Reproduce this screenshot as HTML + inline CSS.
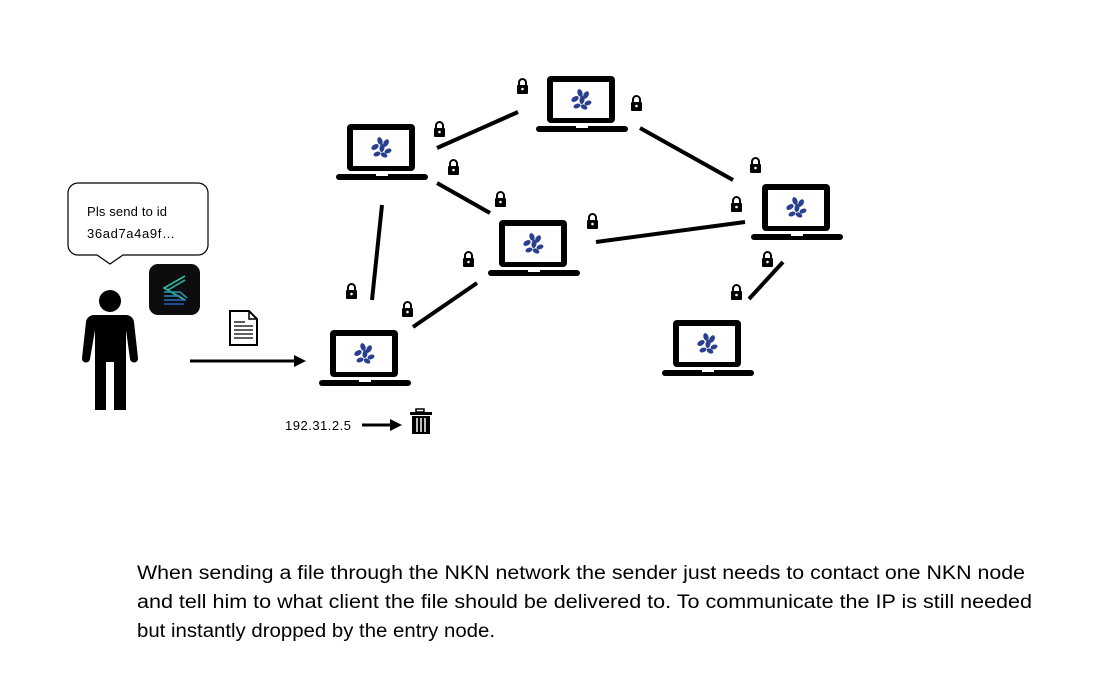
<!DOCTYPE html>
<html><head><meta charset="utf-8"><style>body{margin:0;background:#fff}svg{display:block}</style></head>
<body>
<svg width="1098" height="684" viewBox="0 0 1098 684" xmlns="http://www.w3.org/2000/svg">
<defs>
<g id="lap">
<rect x="11" y="0" width="68" height="47" rx="4" fill="#000"/>
<rect x="17" y="6" width="56" height="36" fill="#fff"/>
<rect x="0" y="50" width="92" height="6" rx="3" fill="#000"/>
<rect x="40" y="50" width="12" height="2" fill="#fff"/>
<g fill="#2a3f8f" transform="translate(45,24)">
<ellipse cx="-1" cy="-7" rx="2.5" ry="4" transform="rotate(-20 -1 -7)"/>
<ellipse cx="5" cy="-5" rx="2.5" ry="4" transform="rotate(30 5 -5)"/>
<ellipse cx="-6" cy="-1" rx="2.5" ry="4" transform="rotate(60 -6 -1)"/>
<ellipse cx="1" cy="0" rx="2.5" ry="4" transform="rotate(10 1 0)"/>
<ellipse cx="7" cy="3" rx="2.3" ry="3.6" transform="rotate(70 7 3)"/>
<ellipse cx="-4" cy="6" rx="2.3" ry="3.6" transform="rotate(70 -4 6)"/>
<ellipse cx="3" cy="7" rx="2.3" ry="3.6" transform="rotate(-60 3 7)"/>
</g>
</g>
<g id="lock">
<path d="M2 6 V3.5 a3.5 3.5 0 0 1 7 0 V6" fill="none" stroke="#000" stroke-width="2"/>
<rect x="0" y="6" width="11" height="9" rx="1" fill="#000"/>
<circle cx="5.5" cy="10" r="1.3" fill="#fff"/>
</g>
</defs>

<g stroke="#000" stroke-width="4" stroke-linecap="butt">
<line x1="437" y1="148" x2="518" y2="112"/>
<line x1="640" y1="128" x2="733" y2="180"/>
<line x1="437" y1="183" x2="490" y2="213"/>
<line x1="382" y1="205" x2="372" y2="300"/>
<line x1="596" y1="242" x2="745" y2="222"/>
<line x1="413" y1="327" x2="477" y2="283"/>
<line x1="783" y1="262" x2="749" y2="299"/>
<line x1="190" y1="361" x2="296" y2="361" stroke-width="3"/>
<line x1="362" y1="425" x2="392" y2="425" stroke-width="3"/>
</g>
<polygon points="294,355 306,361 294,367" fill="#000"/>
<polygon points="390,419 402,425 390,431" fill="#000"/>

<use href="#lap" x="336" y="124"/>
<use href="#lap" x="536" y="76"/>
<use href="#lap" x="488" y="220"/>
<use href="#lap" x="751" y="184"/>
<use href="#lap" x="319" y="330"/>
<use href="#lap" x="662" y="320"/>

<use href="#lock" x="517" y="79"/>
<use href="#lock" x="631" y="96"/>
<use href="#lock" x="434" y="122"/>
<use href="#lock" x="448" y="160"/>
<use href="#lock" x="495" y="192"/>
<use href="#lock" x="587" y="214"/>
<use href="#lock" x="463" y="252"/>
<use href="#lock" x="346" y="284"/>
<use href="#lock" x="402" y="302"/>
<use href="#lock" x="750" y="158"/>
<use href="#lock" x="731" y="197"/>
<use href="#lock" x="762" y="252"/>
<use href="#lock" x="731" y="285"/>

<!-- speech bubble -->
<path d="M78 183 H198 a10 10 0 0 1 10 10 V245 a10 10 0 0 1 -10 10 H123 L110 264 L97 255 H78 a10 10 0 0 1 -10 -10 V193 a10 10 0 0 1 10 -10 Z" fill="#fff" stroke="#000" stroke-width="1.2"/>
<text x="87" y="216" font-family="Liberation Sans, sans-serif" font-size="13" textLength="80">Pls send to id</text>
<text x="87" y="238" font-family="Liberation Sans, sans-serif" font-size="13" textLength="88">36ad7a4a9f…</text>

<!-- app icon -->
<rect x="149" y="264" width="51" height="51" rx="9" fill="#0d0d10"/>
<g stroke-width="1.6" fill="none">
<path d="M185 276 L164 288 L185 300" stroke="#2fbf9a"/>
<path d="M185 280 L168 290" stroke="#28a899"/>
<path d="M164 292 H180 L187 298" stroke="#2996a8"/>
<path d="M164 296 H180" stroke="#2a85b0"/>
<path d="M164 300 H186" stroke="#2a70b8"/>
<path d="M164 304 H184" stroke="#2a5fbf"/>
</g>

<!-- person -->
<circle cx="110" cy="301" r="11" fill="#000"/>
<path d="M94 315 H126 a8 8 0 0 1 8 7 L138 358 a4 4 0 0 1 -8 1 L126 330 V410 H114 V362 H106 V410 H95 V330 L90 359 a4 4 0 0 1 -8 -1 L86 322 a8 8 0 0 1 8 -7 Z" fill="#000"/>

<!-- document -->
<path d="M230 311 H249 L257 319 V345 H230 Z" fill="#fff" stroke="#000" stroke-width="2"/>
<path d="M249 311 V319 H257" fill="none" stroke="#000" stroke-width="1.5"/>
<g stroke="#000" stroke-width="1.3">
<line x1="234" y1="322" x2="245" y2="322"/><line x1="234" y1="326" x2="253" y2="326"/>
<line x1="234" y1="330" x2="253" y2="330"/><line x1="234" y1="334" x2="253" y2="334"/>
<line x1="234" y1="338" x2="253" y2="338"/>
</g>

<!-- trash -->
<rect x="416" y="409" width="8" height="3" fill="none" stroke="#000" stroke-width="1.5"/>
<rect x="410" y="412" width="22" height="3" fill="#000"/>
<path d="M412 416 H430 V434 H412 Z" fill="#000"/>
<g stroke="#fff" stroke-width="1.5"><line x1="417" y1="418" x2="417" y2="432"/><line x1="421" y1="418" x2="421" y2="432"/><line x1="425" y1="418" x2="425" y2="432"/></g>

<text x="285" y="430" font-family="Liberation Sans, sans-serif" font-size="13" textLength="66">192.31.2.5</text>

<g font-family="Liberation Sans, sans-serif" font-size="19" fill="#000">
<text x="137" y="579" textLength="888" lengthAdjust="spacingAndGlyphs">When sending a file through the NKN network the sender just needs to contact one NKN node</text>
<text x="137" y="608" textLength="895" lengthAdjust="spacingAndGlyphs">and tell him to what client the file should be delivered to. To communicate the IP is still needed</text>
<text x="137" y="637" textLength="358" lengthAdjust="spacingAndGlyphs">but instantly dropped by the entry node.</text>
</g>
</svg>
</body></html>
